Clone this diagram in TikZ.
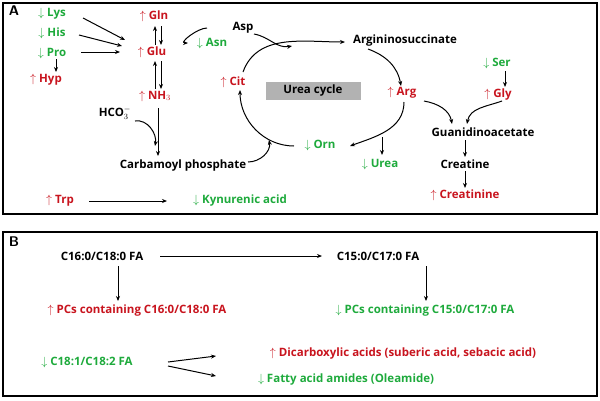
\documentclass[tikz,border=0pt]{standalone}
\usepackage{fontspec}
\setmainfont{Open Sans}
\usetikzlibrary{arrows.meta}
\definecolor{rd}{RGB}{200,20,30}
\definecolor{gr}{RGB}{30,170,60}
\begin{document}
\begin{tikzpicture}[x=1pt,y=-1pt,
 t/.style={font=\bfseries\fontsize{11.5}{13}\selectfont,inner sep=1pt},
 r/.style={t,text=rd}, g/.style={t,text=gr},
 a/.style={-{Stealth[length=5pt,width=4pt]},line width=1pt}]
\useasboundingbox (0,0) rectangle (600,400);
\draw[line width=1.3pt] (3,3) rectangle (597,214);
\draw[line width=1.3pt] (3,232) rectangle (597,396);
\node[font=\bfseries\sffamily\fontsize{14}{16}\selectfont] (A) at (14,11) {A};
\node[font=\bfseries\sffamily\fontsize{14}{16}\selectfont] (B) at (14,242) {B};
\node[g] (lys) at (52,14) {$\downarrow$ Lys};
\node[g] (his) at (52,33) {$\downarrow$ His};
\node[g] (pro) at (52,53) {$\downarrow$ Pro};
\node[r] (hyp) at (46,80) {$\uparrow$ Hyp};
\node[r] (gln) at (154,16) {$\uparrow$ Gln};
\node[r] (glu) at (152,52) {$\uparrow$ Glu};
\node[g] (asn) at (212,43) {$\downarrow$ Asn};
\node[t] (asp) at (243,28) {Asp};
\node[r] (nh3) at (155,96) {$\uparrow$ NH$_3$};
\node[t] (hco) at (115,113) {HCO$_3^{\bf -}$};
\node[t] (cp) at (183,166) {Carbamoyl phosphate};
\node[r] (cit) at (233,82) {$\uparrow$ Cit};
\node[t,fill=black!30,minimum width=95,minimum height=18] (uc) at (313,91) {Urea cycle};
\node[t] (as) at (405,41) {Argininosuccinate};
\node[r] (arg) at (402,93) {$\uparrow$ Arg};
\node[g] (orn) at (320,145) {$\downarrow$ Orn};
\node[g] (urea) at (380,164) {$\downarrow$ Urea};
\node[g] (ser) at (497,63) {$\downarrow$ Ser};
\node[r] (gly) at (498,95) {$\uparrow$ Gly};
\node[t] (gaa) at (483,132) {Guanidinoacetate};
\node[t] (cre) at (465,164) {Creatine};
\node[r] (crn) at (465,195) {$\uparrow$ Creatinine};
\node[r] (trp) at (60,201) {$\uparrow$ Trp};
\node[g] (kyn) at (240,201) {$\downarrow$ Kynurenic acid};
\draw[a] (83,18) -- (125,40);
\draw[a] (79,35) -- (122,46);
\draw[a] (81,52) -- (120,52);
\draw[a] (56,59) -- (56,72);
\draw[a] (155,45) -- (155,26);
\draw[a] (161,26) -- (161,45);
\draw[a] (155,89) -- (155,61);
\draw[a] (161,61) -- (161,89);
\draw[a] (158,108) -- (158,156);
\draw[a] (135,121) to[out=10,in=80] (155,146);
\draw[a] (207,28) to[out=180,in=180] (188,43);
\draw[a] (254,34) to[out=-10,in=190] (292,46);
\draw[a] (243,72) to[out=70,in=180] (345,42);
\draw[a] (368,49) to[out=-20,in=100] (401,86);
\draw[a] (404,102) to[out=-90,in=20] (350,146);
\draw[a] (294,146) to[out=180,in=-90] (240,90);
\draw[a] (248,162) to[out=0,in=-80] (269,140);
\draw[a] (382,137) -- (382,155);
\draw[a] (424,101) to[out=-10,in=100] (452,124);
\draw[a] (502,101) to[out=200,in=80] (467,124);
\draw[a] (505,71) -- (505,87);
\draw[a] (465,140) -- (465,157);
\draw[a] (465,171) -- (465,188);
\draw[a] (89,201) -- (167,201);
\node[t] (c16) at (102,256) {C16:0/C18:0 FA};
\node[t] (c15) at (378,256) {C15:0/C17:0 FA};
\node[r] (pc1) at (137,311) {$\uparrow$ PCs containing C16:0/C18:0 FA};
\node[g] (pc2) at (425,311) {$\downarrow$ PCs containing C15:0/C17:0 FA};
\node[g] (c18) at (87,362) {$\downarrow$ C18:1/C18:2 FA};
\node[r] (dic) at (403,354) {$\uparrow$ Dicarboxylic acids (suberic acid, sebacic acid)};
\node[g] (faa) at (346,380) {$\downarrow$ Fatty acid amides (Oleamide)};
\draw[a] (160,256) -- (322,256);
\draw[a] (118,266) -- (118,301);
\draw[a] (426,266) -- (426,301);
\draw[a] (168,362) -- (216,356);
\draw[a] (168,366) -- (216,376);
\end{tikzpicture}
\end{document}
